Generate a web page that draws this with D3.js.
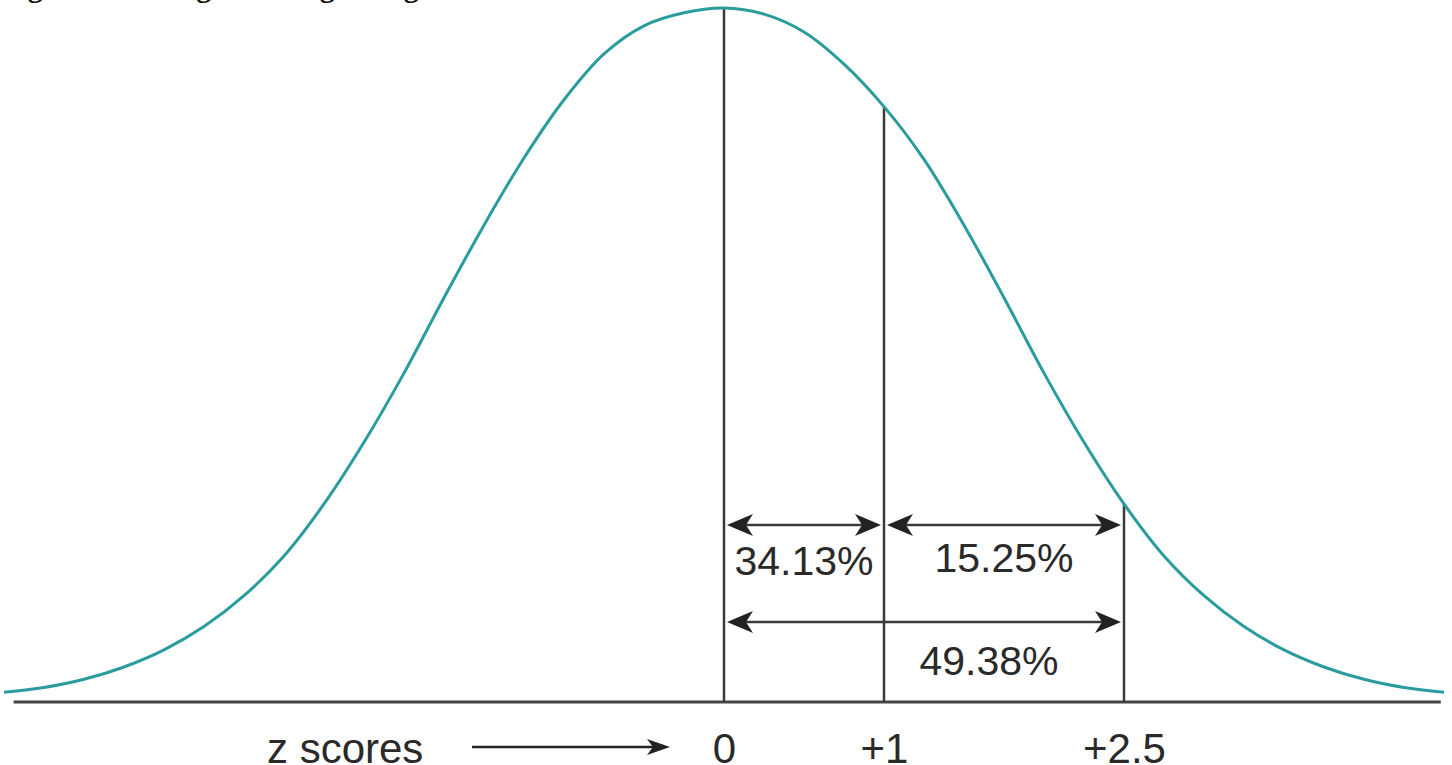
<!DOCTYPE html>
<html>
<head>
<meta charset="utf-8">
<script src="https://cdn.jsdelivr.net/npm/d3@7"></script>
<style>
  html, body { margin: 0; padding: 0; background: #fff; }
  svg { display: block; }
  text { font-family: "Liberation Sans", Arial, Helvetica, sans-serif; fill: #2a2a2a; }
</style>
</head>
<body>
<svg id="chart" width="1452" height="765"></svg>
<script>
// ---- data ----
// curve: z position and relative height (peak = 1)
const curveZ = [-4.5, -4.25, -4.0, -3.75, -3.5, -3.25, -3.0, -2.75, -2.5, -2.25, -2.0, -1.75, -1.5, -1.25, -1.0, -0.75, -0.5, -0.25, 0,
                0.25, 0.5, 0.75, 1.0, 1.25, 1.5, 1.75, 2.0, 2.25, 2.5, 2.75, 3.0, 3.25, 3.5, 3.75, 4.0, 4.25, 4.5];
const curveH = [0.001, 0.008, 0.020, 0.038, 0.063, 0.097, 0.142, 0.200, 0.276, 0.366, 0.467, 0.577, 0.683, 0.781, 0.866, 0.933, 0.974, 0.993, 1.000,
                0.991, 0.965, 0.918, 0.856, 0.779, 0.683, 0.577, 0.467, 0.366, 0.276, 0.200, 0.142, 0.097, 0.063, 0.038, 0.020, 0.008, 0.001];

// z-score markers
const markerZ = [0, 1, 2.5];
const markerLabels = ["0", "+1", "+2.5"];

// percentage spans
const spanFrom = [0, 1, 0];
const spanTo = [1, 2.5, 2.5];
const spanLabels = ["34.13%", "15.25%", "49.38%"];

const axisTitle = "z scores";
const figureTitle = ["Figure", "6.4", "Using", "the", "Range", "Large"];

// ---- layout ----
const svg = d3.select("#chart");
const x = d3.scaleLinear().domain([-4.5, 4.5]).range([4, 1444]);
const y = d3.scaleLinear().domain([0, 1]).range([693, 8]);
const baseY = 702;
const lineColor = "#3a3a3a";
const curveColor = "#2a9c9e";

// clipped title at top (only descenders visible)
svg.append("text")
  .attr("x", 1).attr("y", -3.5)
  .style("font-family", "'Liberation Serif', 'Times New Roman', serif")
  .style("font-weight", "bold")
  .style("font-size", "30px")
  .style("fill", "#111")
  .text(figureTitle.join(" "));

// axis baseline
svg.append("line")
  .attr("x1", x(-4.44)).attr("x2", x(4.48))
  .attr("y1", baseY).attr("y2", baseY)
  .attr("stroke", "#444").attr("stroke-width", 3);

// height lookup for markers
const hAt = z => curveH[curveZ.findIndex(v => Math.abs(v - z) < 1e-9)];

// vertical marker lines
svg.selectAll("line.marker").data(markerZ).join("line")
  .attr("class", "marker")
  .attr("x1", d => x(d)).attr("x2", d => x(d))
  .attr("y1", baseY).attr("y2", d => y(hAt(d)))
  .attr("stroke", lineColor).attr("stroke-width", 2.5);

// curve
const line = d3.line()
  .x((d, i) => x(curveZ[i]))
  .y((d, i) => y(curveH[i]))
  .curve(d3.curveCatmullRom.alpha(0.5));
svg.append("path")
  .datum(curveZ)
  .attr("d", line)
  .attr("fill", "none")
  .attr("stroke", curveColor)
  .attr("stroke-width", 3);

// arrowhead helper (tip at (tx,ty), pointing in direction dir: +1 right, -1 left)
function arrowHead(g, tx, ty, dir, len, half, notch) {
  const p = d3.path();
  p.moveTo(tx, ty);
  p.lineTo(tx - dir * len, ty - half);
  p.lineTo(tx - dir * (len - notch), ty);
  p.lineTo(tx - dir * len, ty + half);
  p.closePath();
  g.append("path").attr("d", p.toString()).attr("fill", "#222");
}

// span arrows
const spanY = [525, 525, 622];
const labelPos = [[0.5, 575], [1.75, 572], [1.656, 675]];
spanLabels.forEach((lab, i) => {
  const g = svg.append("g");
  const xa = x(spanFrom[i]) + 3, xb = x(spanTo[i]) - 3;
  g.append("line")
    .attr("x1", xa + 8).attr("x2", xb - 8)
    .attr("y1", spanY[i]).attr("y2", spanY[i])
    .attr("stroke", lineColor).attr("stroke-width", 2.5);
  arrowHead(g, xa, spanY[i], -1, 26, 11, 7);
  arrowHead(g, xb, spanY[i], 1, 26, 11, 7);
  svg.append("text")
    .attr("x", x(labelPos[i][0])).attr("y", labelPos[i][1])
    .attr("text-anchor", "middle")
    .style("font-size", "41px")
    .text(lab);
});

// tick labels via d3 axis
const axis = d3.axisBottom(x)
  .tickValues(markerZ)
  .tickFormat((d, i) => markerLabels[i])
  .tickSize(0)
  .tickPadding(0);
const ax = svg.append("g").attr("transform", `translate(0, 733)`).call(axis);
ax.select(".domain").remove();
ax.selectAll("text")
  .attr("dy", null).attr("y", 30)
  .style("font-size", "42px")
  .style("font-family", "'Liberation Sans', Arial, Helvetica, sans-serif")
  .style("fill", "#2a2a2a");

// axis title with arrow
svg.append("text")
  .attr("x", 267).attr("y", 763)
  .style("font-size", "42px")
  .text(axisTitle);
const ag = svg.append("g");
ag.append("line")
  .attr("x1", 472).attr("x2", 660)
  .attr("y1", 747).attr("y2", 747)
  .attr("stroke", "#222").attr("stroke-width", 2.5);
arrowHead(ag, 670, 747, 1, 23, 8, 6);
</script>
</body>
</html>
